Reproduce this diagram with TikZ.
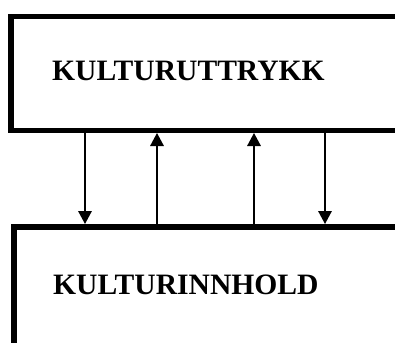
\documentclass[tikz,border=0pt]{standalone}
\usepackage{fontspec}
\setmainfont{Liberation Serif}
\usetikzlibrary{arrows.meta}
\begin{document}
\begin{tikzpicture}[x=1pt,y=-1pt,
  box/.style={draw=black, line width=5.5pt, rectangle, inner sep=0pt, anchor=north west},
  lbl/.style={anchor=base west, inner sep=0pt, font=\fontsize{29.6pt}{33pt}\selectfont\bfseries},
  arr/.style={line width=1.6pt, -{Triangle[length=13pt,width=13.5pt]}}]
\useasboundingbox (0,0) rectangle (395,342);
\clip (0,0) rectangle (395,342);
\node[box, minimum width=386.5pt, minimum height=113.5pt] (top) at (8,14) {};
\node[box, minimum width=383.5pt, minimum height=133pt] (bot) at (11,224) {};
\node[lbl] (t1) at (52,81) {KULTURUTTRYKK};
\node[lbl] (t2) at (53,294) {KULTURINNHOLD};
\coordinate (c1) at (85,0);
\coordinate (c2) at (157,0);
\coordinate (c3) at (254,0);
\coordinate (c4) at (325,0);
\draw[arr] (top.south -| c1) -- (bot.north -| c1);
\draw[arr] (bot.north -| c2) -- (top.south -| c2);
\draw[arr] (bot.north -| c3) -- (top.south -| c3);
\draw[arr] (top.south -| c4) -- (bot.north -| c4);
\end{tikzpicture}
\end{document}
